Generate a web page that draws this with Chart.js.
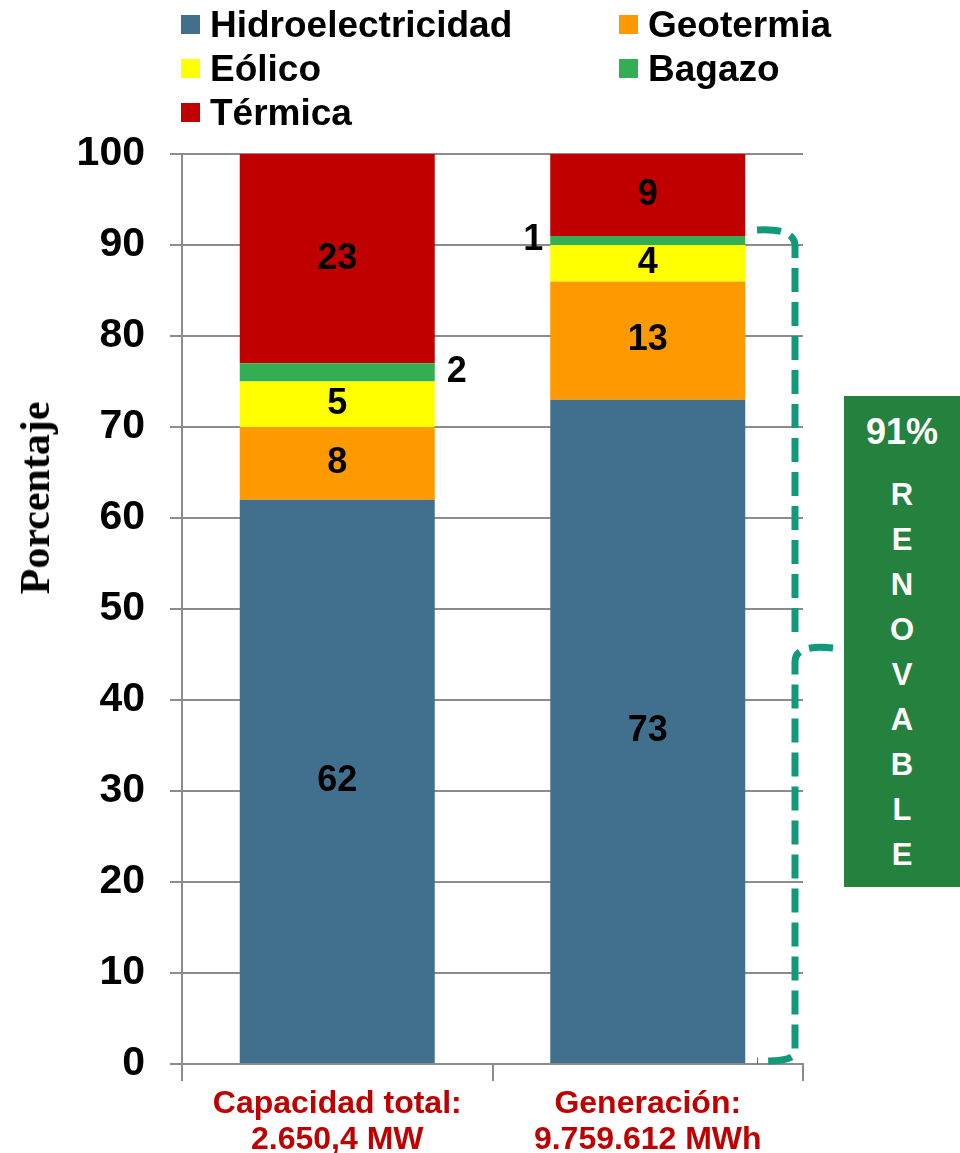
<!DOCTYPE html>
<html lang="es">
<head>
<meta charset="utf-8">
<script src="https://cdn.jsdelivr.net/npm/chart.js@4.4.1/dist/chart.umd.min.js"></script>
<style>
    body { margin: 0; background: #fff; }
    #wrap { position: relative; width: 960px; height: 1153px; font-family: 'Liberation Sans', Arial, sans-serif; }
    #grafico { position: absolute; left: 0; top: 0; }
    .item { position: absolute; height: 44px; display: flex; align-items: center; font-size: 37px; font-weight: bold; color: #000; white-space: nowrap; }
    .item span.cuadro { display: inline-block; width: 19px; height: 19px; margin-right: 10px; }
    #tituloY { position: absolute; left: 35px; top: 498px; transform: translate(-50%, -50%) rotate(-90deg); font-family: 'Liberation Serif', 'Times New Roman', serif; font-weight: bold; font-size: 42px; white-space: nowrap; }
    #caja { position: absolute; left: 844px; top: 396px; width: 116px; height: 491px; background: #25813E; color: #fff; font-weight: bold; text-align: center; }
    #caja .pct { height: 72px; line-height: 72px; font-size: 36px; }
    #caja .letras { padding-top: 4px; font-size: 31px; line-height: 45px; }
</style>
</head>
<body>
<div id="wrap">
    <canvas id="grafico" width="960" height="1153"></canvas>
    <div id="leyenda"></div>
    <div id="tituloY">Porcentaje</div>
    <div id="caja"><div class="pct">91%</div><div class="letras"></div></div>
</div>
<script>
// categorías (dos líneas cada una)
const categorias = [['Capacidad total:', '2.650,4 MW'], ['Generación:', '9.759.612 MWh']];

// porcentajes por fuente
const hidroelectricidad = [62, 73];
const geotermia = [8, 13];
const eolico = [5, 4];
const bagazo = [2, 1];
const termica = [23, 9];

const porcentajeRenovable = 91;
const textoRenovable = 'RENOVABLE';

const series = [
    { label: 'Hidroelectricidad', data: hidroelectricidad, color: '#41708F' },
    { label: 'Geotermia', data: geotermia, color: '#FF9900' },
    { label: 'Eólico', data: eolico, color: '#FFFF00' },
    { label: 'Bagazo', data: bagazo, color: '#33AE54' },
    { label: 'Térmica', data: termica, color: '#C00000' }
];

const fuente = "'Liberation Sans', Arial, sans-serif";
const gris = '#8C8C8C';

// leyenda en dos columnas
const leyenda = document.getElementById('leyenda');
const colX = [181, 619];
series.forEach(function (s, i) {
    const div = document.createElement('div');
    div.className = 'item';
    div.style.left = colX[i % 2] + 'px';
    div.style.top = (24.5 + Math.floor(i / 2) * 44 - 22) + 'px';
    div.innerHTML = '<span class="cuadro" style="background:' + s.color + '"></span>' + s.label;
    leyenda.appendChild(div);
});

// letras verticales de la caja
document.querySelector('#caja .letras').innerHTML =
    textoRenovable.split('').map(function (c) { return '<div>' + c + '</div>'; }).join('');
document.querySelector('#caja .pct').textContent = porcentajeRenovable + '%';

// etiquetas de valor dentro de cada segmento
const etiquetas = {
    id: 'etiquetas',
    afterDatasetsDraw(chart) {
        const ctx = chart.ctx;
        ctx.save();
        ctx.font = 'bold 36px ' + fuente;
        ctx.fillStyle = '#000';
        ctx.textAlign = 'center';
        ctx.textBaseline = 'middle';
        chart.data.datasets.forEach(function (ds, i) {
            chart.getDatasetMeta(i).data.forEach(function (bar, j) {
                let x = bar.x;
                const y = (bar.y + bar.base) / 2;
                if (ds.label === 'Bagazo') {
                    // el segmento es muy delgado: etiqueta afuera
                    x = j === 0 ? bar.x + bar.width / 2 + 22 : bar.x - bar.width / 2 - 17;
                }
                ctx.fillText(ds.data[j], x, y);
            });
        });
        ctx.restore();
    }
};

// llave punteada de 0 a 91
const llave = {
    id: 'llave',
    afterDraw(chart) {
        const ctx = chart.ctx;
        const area = chart.chartArea;
        const y = chart.scales.y;
        const xL = area.right - 8;
        const yTop = y.getPixelForValue(porcentajeRenovable);
        const yBot = y.getPixelForValue(0);
        const yMid = (yTop + yBot) / 2;
        ctx.save();
        ctx.strokeStyle = '#11997A';
        ctx.lineWidth = 7;
        ctx.setLineDash([24, 10]);
        ctx.beginPath();
        ctx.moveTo(xL - 38, yTop - 6);
        ctx.quadraticCurveTo(xL, yTop - 8, xL, yTop + 10);
        ctx.lineTo(xL, yMid - 8);
        ctx.moveTo(xL + 38, yMid - 2);
        ctx.quadraticCurveTo(xL, yMid - 6, xL, yMid + 12);
        ctx.lineTo(xL, yBot - 12);
        ctx.quadraticCurveTo(xL, yBot - 2, xL - 38, yBot - 3);
        ctx.stroke();
        ctx.restore();
    }
};

const ctx = document.getElementById('grafico').getContext('2d');
new Chart(ctx, {
    type: 'bar',
    data: {
        labels: categorias,
        datasets: series.map(function (s) {
            return { label: s.label, data: s.data, backgroundColor: s.color, borderWidth: 0 };
        })
    },
    options: {
        responsive: false,
        animation: false,
        layout: { padding: { top: 154, right: 157, left: 0, bottom: 0 } },
        datasets: { bar: { barPercentage: 0.628, categoryPercentage: 1 } },
        plugins: {
            legend: { display: false },
            tooltip: { enabled: false }
        },
        scales: {
            x: {
                stacked: true,
                grid: { drawOnChartArea: false, tickLength: 17, color: gris, lineWidth: 2 },
                border: { color: gris, width: 2 },
                ticks: {
                    color: '#C00000',
                    font: { family: fuente, size: 32, weight: 'bold', lineHeight: 1.125 },
                    padding: 5,
                    maxRotation: 0,
                    autoSkip: false
                },
                afterFit: function (s) { s.height = 89; }
            },
            y: {
                stacked: true,
                min: 0,
                max: 100,
                ticks: {
                    stepSize: 10,
                    color: '#000',
                    font: { family: fuente, size: 41, weight: 'bold' },
                    padding: 25
                },
                grid: { color: gris, lineWidth: 2, tickLength: 12 },
                border: { color: gris, width: 2 },
                afterFit: function (s) { s.width = 182; }
            }
        }
    },
    plugins: [etiquetas, llave]
});
</script>
</body>
</html>
